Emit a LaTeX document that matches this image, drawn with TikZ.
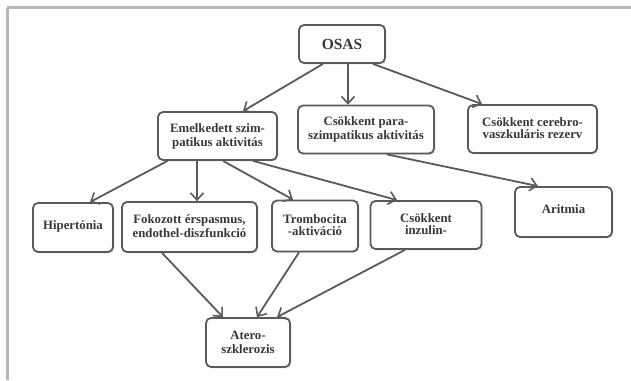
\documentclass[tikz,border=0pt]{standalone}
\usepackage{fontspec}
\setmainfont{Liberation Serif}
\usetikzlibrary{arrows.meta,calc,shadows}
\definecolor{boxline}{HTML}{5A5A5A}
\definecolor{txt}{HTML}{383838}
\definecolor{frameline}{HTML}{B8B8B8}
\tikzset{
  box/.style={draw=boxline, line width=1.8pt, rounded corners=5pt, fill=white,
    align=center, text=txt, font=\bfseries\fontsize{12.8}{14}\selectfont,
    inner sep=0pt, drop shadow={opacity=0.15, shadow xshift=1.5pt, shadow yshift=-1.5pt}},
  conn/.style={draw=boxline, line width=1.8pt,
    -{Straight Barb[length=7pt,width=13pt,line width=1.6pt]}},
}
\begin{document}
\begin{tikzpicture}[x=1pt,y=-1pt]
\useasboundingbox (0,0) rectangle (631,380);
% frame
\draw[frameline, line width=2.5pt] (6.5,7.5) -- (631,7.5);
\draw[frameline, line width=2.5pt] (7.5,7.5) -- (7.5,380);
% boxes
\node[box, minimum width=86pt, minimum height=38pt, font=\bfseries\fontsize{15.5}{16}\selectfont] (osas) at (342,44) {OSAS};
\node[box, minimum width=119pt, minimum height=48pt] (emel) at (217.5,136) {Emelkedett szim-\\patikus aktivitás};
\node[box, minimum width=136pt, minimum height=48pt] (para) at (366,129.5) {\raisebox{1pt}{\shortstack{Csökkent para-\\szimpatikus aktivitás}}};
\node[box, minimum width=129pt, minimum height=48pt] (cere) at (532.5,129) {\raisebox{2pt}{\shortstack{Csökkent cerebro-\\vaszkuláris rezerv}}};
\node[box, minimum width=80pt, minimum height=49pt] (hip) at (73,227.5) {\raisebox{4pt}{Hipertónia}};
\node[box, minimum width=135pt, minimum height=50pt] (fok) at (189.5,227) {\raisebox{2pt}{\shortstack{Fokozott érspasmus,\\endothel-diszfunkció}}};
\node[box, minimum width=86pt, minimum height=51pt] (tromb) at (315,226) {\raisebox{2pt}{\shortstack{Trombocita\\-aktiváció}}};
\node[box, minimum width=111pt, minimum height=48pt] (inz) at (426,225) {\raisebox{1pt}{\shortstack{Csökkent\\inzulin-}}};
\node[box, minimum width=97pt, minimum height=50pt] (arit) at (563.5,212) {\raisebox{5pt}{Aritmia}};
\node[box, minimum width=84pt, minimum height=49pt] (ater) at (248,342.5) {Atero-\\szklerozis};
% connectors
\draw[conn] ($(osas.south)+(-19,0)$) -- ($(emel.north)+(25.5,0)$);
\draw[conn] ($(osas.south)+(6,0)$) -- ($(para.north)+(-18,0)$);
\draw[conn] ($(osas.south)+(31,0)$) -- ($(cere.north)+(-50.5,0)$);
\draw[conn] ($(emel.south)+(-50,0)$) -- ($(hip.north)+(17,0)$);
\draw[conn] ($(emel.south)+(-20.5,0)$) -- ($(fok.north)+(7.5,0)$);
\draw[conn] ($(emel.south)+(5.5,0)$) -- ($(tromb.north)+(-22,0)$);
\draw[conn] ($(emel.south)+(35.5,0)$) -- ($(inz.north)+(-29,0)$);
\draw[conn] ($(para.south)+(21,0)$) -- ($(arit.north)+(-25.5,0)$);
\draw[conn] ($(fok.south)+(-27.5,0)$) -- ($(ater.north)+(-25,0)$);
\draw[conn] ($(tromb.south)+(-16,0)$) -- ($(ater.north)+(9,0)$);
\draw[conn] ($(inz.south)+(-21,0)$) -- ($(ater.north)+(29,0)$);
\end{tikzpicture}
\end{document}
